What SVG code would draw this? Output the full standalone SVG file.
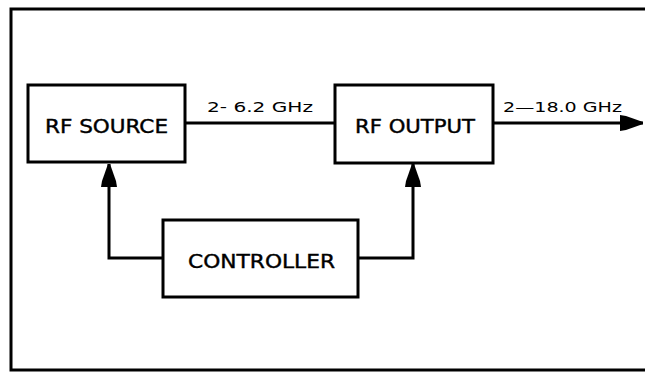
<svg xmlns="http://www.w3.org/2000/svg" width="645" height="372" viewBox="0 0 645 372">
<defs>
<style>
.box{fill:#fff;stroke:#000;stroke-width:3}
.wire{fill:none;stroke:#000;stroke-width:3}
.lbl{font-family:"DejaVu Sans Condensed","Liberation Sans",sans-serif;font-size:20px;fill:#000;stroke:#000;stroke-width:0.4}
.freq{font-family:"DejaVu Sans Condensed","Liberation Sans",sans-serif;font-size:14px;fill:#000}
</style>
<marker id="ah" markerWidth="24" markerHeight="18" refX="23" refY="9" orient="auto" markerUnits="userSpaceOnUse">
<path d="M0,1 L6,2 L23,8 L23,10 L6,16 L0,17 Z" fill="#000"/>
</marker>
</defs>
<rect width="645" height="372" fill="#fff"/>
<g id="frame">
<path class="wire" d="M645,9 L11,9 L11,370 L645,370"/>
</g>
<g id="connectors">
<line class="wire" x1="185" y1="123" x2="335" y2="123"/>
<line class="wire" x1="493" y1="123" x2="643" y2="123" marker-end="url(#ah)"/>
<path class="wire" d="M163,258 L109,258 L109,164" marker-end="url(#ah)"/>
<path class="wire" d="M358,258 L413,258 L413,164" marker-end="url(#ah)"/>
<text class="freq" x="207" y="112" textLength="106" lengthAdjust="spacingAndGlyphs">2- 6.2 GHz</text>
<text class="freq" x="503" y="112" textLength="119" lengthAdjust="spacingAndGlyphs">2—18.0 GHz</text>
</g>
<g id="rf-source">
<rect class="box" x="28" y="85" width="157" height="77"/>
<text class="lbl" x="45" y="133" textLength="123" lengthAdjust="spacingAndGlyphs">RF SOURCE</text>
</g>
<g id="rf-output">
<rect class="box" x="335" y="85" width="158" height="78"/>
<text class="lbl" x="355" y="133" textLength="120" lengthAdjust="spacingAndGlyphs">RF OUTPUT</text>
</g>
<g id="controller">
<rect class="box" x="163" y="220" width="195" height="77"/>
<text class="lbl" x="188" y="268" textLength="147" lengthAdjust="spacingAndGlyphs">CONTROLLER</text>
</g>
</svg>
